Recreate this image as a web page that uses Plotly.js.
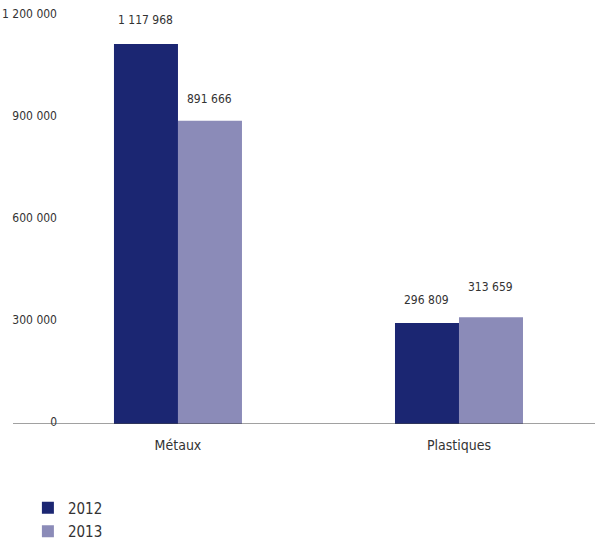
<!DOCTYPE html>
<html>
<head>
<meta charset="utf-8">
<script src="https://cdn.plot.ly/plotly-3.0.1.min.js"></script>
<style>html,body{margin:0;padding:0;background:#fff;}#chart{width:595px;height:545px;}</style>
</head>
<body>
<div id="chart"></div>
<script>
const categories = ["Métaux", "Plastiques"];
const seriesNames = ["2012", "2013"];
const values2012 = [1117968, 296809];
const values2013 = [891666, 313659];
const yTickVals = [0, 300000, 600000, 900000, 1200000];

const colors = ["#1b2672", "#8b8bb8"];
const labelShift = [[24, 23], [22, 30]];
const FONT = "DejaVu Sans Condensed, sans-serif";
const bargap = 0.5445;

function fmt(v) {
  return String(v).replace(/\B(?=(\d{3})+(?!\d))/g, " ");
}

const allSeries = [values2012, values2013];
const traces = allSeries.map((vals, s) => ({
  type: "bar",
  name: seriesNames[s],
  legendgroup: "g" + s,
  x: categories,
  y: vals,
  marker: {color: colors[s]},
  hoverinfo: "none"
}));

const annotations = [];
allSeries.forEach((vals, s) => {
  vals.forEach((v, i) => {
    annotations.push({
      x: i + (s === 0 ? -1 : 1) * (1 - bargap) / 4,
      y: v,
      xref: "x", yref: "y",
      text: fmt(v),
      showarrow: false,
      yanchor: "middle",
      yshift: labelShift[s][i],
      font: {family: FONT, size: 12, color: "#333333"}
    });
  });
});

const layout = {
  width: 595, height: 545,
  margin: {l: 65, r: 0, t: 10, b: 121, autoexpand: false},
  paper_bgcolor: "#ffffff",
  plot_bgcolor: "#ffffff",
  barmode: "group",
  bargap: bargap,
  bargroupgap: 0,
  separators: ", ",
  font: {family: FONT, size: 12, color: "#333333"},
  xaxis: {
    type: "category",
    range: [-0.402, 1.484],
    showline: false, showgrid: false, zeroline: false, ticks: "",
    tickfont: {family: FONT, size: 14, color: "#333333"},
    ticklabelstandoff: 11
  },
  yaxis: {
    range: [0, 1217647],
    tickvals: yTickVals,
    tickformat: ",d",
    showline: false, showgrid: false, zeroline: false, ticks: "",
    tickfont: {family: FONT, size: 12, color: "#333333"},
    ticklabelstandoff: 7,
    ticklabelshift: -2
  },
  shapes: [{
    type: "line", xref: "paper", yref: "y",
    x0: (13 - 65) / 530, x1: 1, y0: 0, y1: 0,
    line: {color: "#444444", width: 1.2}
  }],
  showlegend: true,
  legend: {
    x: -0.07, xanchor: "left",
    y: -0.163, yanchor: "top",
    orientation: "v",
    traceorder: "grouped",
    tracegroupgap: 1,
    font: {family: FONT, size: 15, color: "#333333"},
    bgcolor: "rgba(0,0,0,0)"
  },
  annotations: annotations
};

Plotly.newPlot("chart", traces, layout, {displayModeBar: false, staticPlot: true});
</script>
</body>
</html>
